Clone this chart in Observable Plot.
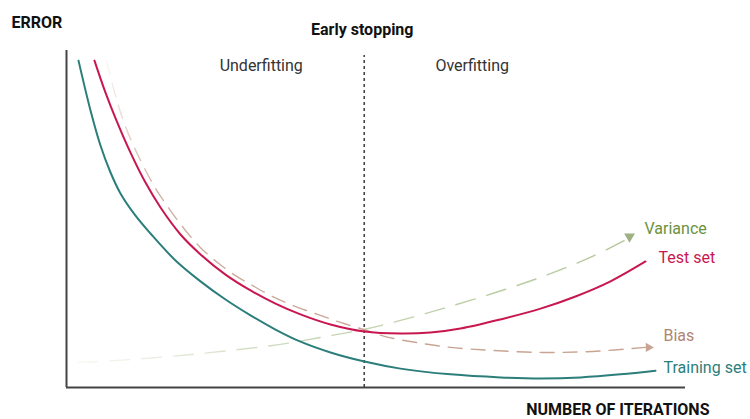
<!DOCTYPE html>
<html>
<head>
<meta charset="utf-8">
<script src="https://cdn.jsdelivr.net/npm/d3@7"></script>
<script src="https://cdn.jsdelivr.net/npm/@observablehq/plot@0.6"></script>
<style>
  html, body { margin: 0; padding: 0; background: #fff; }
  #chart svg { display: block; font-family: Roboto, "Noto Sans", sans-serif; }
</style>
</head>
<body>
<div id="chart"></div>
<script>
// Iterations (x) and error (y)
const trainingX = [1.94, 3.88, 5.49, 7.11, 8.72, 11.15, 13.57, 17.61, 21.65, 25.69, 29.73, 33.76, 37.80, 42.65, 48.14, 53.96, 62.04, 70.11, 76.58, 83.04, 89.50, 95.15];
const trainingY = [97.0, 82.2, 71.8, 63.8, 57.6, 51.0, 45.7, 37.7, 31.5, 26.1, 21.4, 17.2, 13.6, 10.4, 7.7, 5.6, 3.9, 3.0, 2.7, 3.0, 3.9, 5.0];

const testX = [4.52, 6.30, 8.08, 10.34, 12.76, 15.19, 18.42, 21.65, 25.69, 29.73, 33.76, 37.80, 42.65, 48.14, 53.96, 58.80, 63.65, 70.11, 76.58, 82.23, 87.88, 93.54];
const testY = [97.0, 87.5, 79.2, 69.7, 60.8, 53.4, 45.4, 39.5, 33.5, 28.8, 24.9, 21.7, 18.7, 16.6, 16.0, 16.3, 17.5, 20.2, 23.4, 27.0, 31.5, 37.4];

const biasX = [6.46, 7.92, 9.53, 11.95, 14.38, 16.80, 19.22, 21.65, 24.39, 27.30, 29.73, 32.96, 36.19, 40.55, 44.26, 47.98, 51.53, 56.38, 62.04, 68.82, 76.90, 84.98, 93.54];
const biasY = [97.0, 86.6, 77.4, 67.4, 59.1, 52.5, 46.6, 41.5, 37.1, 33.2, 30.6, 27.3, 24.6, 21.7, 19.3, 17.2, 15.1, 13.4, 11.9, 11.0, 10.4, 10.7, 11.9];

const varianceX = [1.78, 10.34, 18.42, 26.49, 34.57, 42.65, 47.98, 53.96, 60.74, 68.82, 76.90, 84.98, 90.15];
const varianceY = [7.4, 8.3, 9.5, 11.0, 12.8, 15.4, 17.2, 19.9, 23.4, 27.9, 32.9, 38.9, 43.6];

const earlyStop = 48.1;
const regionLabels = ["Underfitting", "Overfitting"];
const seriesNames = ["Training set", "Test set", "Bias", "Variance"];
const axisTitles = ["ERROR", "NUMBER OF ITERATIONS"];
const stopLabel = "Early stopping";

const pts = (xs, ys) => xs.map((x, i) => ({x, y: ys[i]}));
const training = pts(trainingX, trainingY);
const test = pts(testX, testY);
const bias = pts(biasX, biasY);
const variance = pts(varianceX, varianceY);
const last = a => [a[a.length - 1]];

const C = {
  teal: "#2b7e7a", crimson: "#c8174f",
  bias: "#c9a493", biasText: "#b08572",
  variance: "#b3c79b", varArrow: "#9db183", varText: "#6b913f",
  axis: "#444"
};

const plot = Plot.plot({
  width: 750, height: 419,
  marginLeft: 66, marginRight: 65, marginTop: 50, marginBottom: 32,
  x: {domain: [0, 100], axis: null},
  y: {domain: [0, 100], axis: null},
  style: {fontFamily: "Roboto, 'Noto Sans', sans-serif", background: "#fff"},
  marks: [
    // axes lines
    Plot.ruleX([0], {y1: 0, y2: 100, stroke: C.axis, strokeWidth: 2}),
    Plot.ruleY([0], {x1: 0, x2: 100, stroke: C.axis, strokeWidth: 2}),
    // early stopping
    Plot.ruleX([earlyStop], {y1: 0, y2: 98.5, stroke: C.axis, strokeWidth: 1.6, strokeDasharray: "3,3"}),
    // dashed bias / variance
    Plot.line(variance, {x: "x", y: "y", curve: "catmull-rom", stroke: "url(#gradVar)", strokeWidth: 1.4, strokeDasharray: "20,12"}),
    Plot.line(bias, {x: "x", y: "y", curve: "catmull-rom", stroke: "url(#gradBias)", strokeWidth: 1.4, strokeDasharray: "14,9"}),
    Plot.dot(last(variance), {x: "x", y: "y", symbol: "triangle", r: 4, fill: C.varArrow, stroke: null, rotate: 180, dx: 5, dy: -4}),
    Plot.dot(last(bias), {x: "x", y: "y", symbol: "triangle", r: 3.5, fill: C.bias, stroke: null, rotate: 90, dx: 3}),
    // main curves
    Plot.line(training, {x: "x", y: "y", curve: "catmull-rom", stroke: C.teal, strokeWidth: 2}),
    Plot.line(test, {x: "x", y: "y", curve: "catmull-rom", stroke: C.crimson, strokeWidth: 2}),
    // series labels
    Plot.text(last(training), {x: "x", y: "y", text: () => seriesNames[0], fill: C.teal, fontSize: 16, textAnchor: "start", lineAnchor: "bottom", dx: 8, dy: 2}),
    Plot.text(last(test), {x: "x", y: "y", text: () => seriesNames[1], fill: C.crimson, fontSize: 16, textAnchor: "start", lineAnchor: "bottom", dx: 13, dy: 2}),
    Plot.text(last(bias), {x: "x", y: "y", text: () => seriesNames[2], fill: C.biasText, fontSize: 16, textAnchor: "start", lineAnchor: "bottom", dx: 18, dy: -6}),
    Plot.text(last(variance), {x: "x", y: "y", text: () => seriesNames[3], fill: C.varText, fontSize: 16, textAnchor: "start", lineAnchor: "bottom", dx: 20, dy: -7}),
    // region labels
    Plot.text([earlyStop], {x: d => d, frameAnchor: "top", text: () => stopLabel, fontWeight: "bold", fontSize: 16, fill: "#111", lineAnchor: "bottom", dx: -2, dy: -16}),
    Plot.text([earlyStop], {x: d => d, frameAnchor: "top", text: () => regionLabels[0], fontSize: 16, fill: "#333", lineAnchor: "bottom", dx: -103, dy: 20}),
    Plot.text([earlyStop], {x: d => d, frameAnchor: "top", text: () => regionLabels[1], fontSize: 16, fill: "#333", lineAnchor: "bottom", dx: 108, dy: 20}),
    // axis titles
    Plot.text([axisTitles[0]], {frameAnchor: "top-left", text: d => d, fontWeight: "bold", fontSize: 16, fill: "#111", textAnchor: "start", lineAnchor: "bottom", dx: -55, dy: -23}),
    Plot.text([axisTitles[1]], {frameAnchor: "bottom-right", text: d => d, fontWeight: "bold", fontSize: 16, fill: "#111", textAnchor: "end", lineAnchor: "bottom", dx: 24, dy: 27})
  ]
});

// gradient definitions for the faded dashed lines
const ns = "http://www.w3.org/2000/svg";
const defs = document.createElementNS(ns, "defs");
function grad(id, x1, y1, x2, y2, stops) {
  const g = document.createElementNS(ns, "linearGradient");
  g.setAttribute("id", id);
  g.setAttribute("x1", x1); g.setAttribute("y1", y1);
  g.setAttribute("x2", x2); g.setAttribute("y2", y2);
  for (const [o, c, op] of stops) {
    const s = document.createElementNS(ns, "stop");
    s.setAttribute("offset", o);
    s.setAttribute("stop-color", c);
    s.setAttribute("stop-opacity", op);
    g.appendChild(s);
  }
  defs.appendChild(g);
}
grad("gradVar", 0, 0, 1, 0, [[0, C.variance, 0.1], [0.45, C.variance, 0.75], [1, C.variance, 1]]);
grad("gradBias", 0, 0, 0, 1, [[0, C.bias, 0.08], [0.45, C.bias, 0.85], [1, C.bias, 1]]);
plot.insertBefore(defs, plot.firstChild);

document.getElementById("chart").appendChild(plot);
</script>
</body>
</html>
